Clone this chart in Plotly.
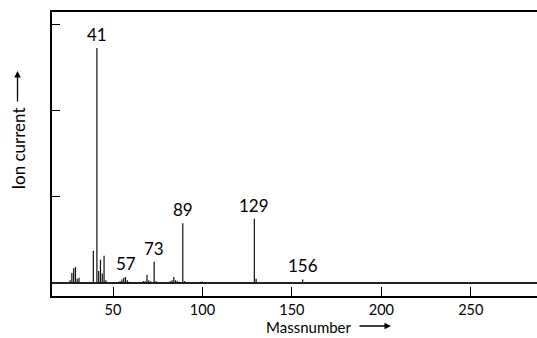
import plotly.graph_objects as go

# ---- data ----
masses = [26, 27, 28, 29, 30, 31, 34, 36, 37, 39, 41, 42, 43, 44, 45, 46,
          53, 54, 55, 56, 57, 58, 59, 61, 67, 68, 69, 70, 71, 73, 74,
          82, 83, 84, 85, 86, 87, 89, 90, 99, 100, 101, 129, 130, 156]
intensity = [3, 11.5, 17, 18.5, 5, 6, 1, 1, 1, 37.5, 273, 14, 27, 11, 31.5, 3,
             1.5, 2, 4, 6, 7, 3, 1.5, 1, 2, 2, 9.5, 3, 2, 24.5, 2,
             2, 3, 7, 3, 2, 1.5, 69.5, 2, 1.5, 1.5, 1, 74.5, 5, 4]
label_masses = [41, 57, 73, 89, 129, 156]
x_ticks = [50, 100, 150, 200, 250]
y_ticks = [100, 200, 300]

FONT = "Lato"

# stick spectrum built from the arrays
xs, ys = [], []
for m, h in zip(masses, intensity):
    xs += [m, m, None]
    ys += [0, h, None]

fig = go.Figure()
fig.add_trace(go.Scatter(x=xs, y=ys, mode="lines",
                         line=dict(color="#111111", width=1.2),
                         hoverinfo="skip", showlegend=False))

lookup = dict(zip(masses, intensity))
for m in label_masses:
    fig.add_annotation(x=m, y=lookup[m], text=str(m), showarrow=False,
                       xanchor="center", yanchor="bottom", yshift=1,
                       font=dict(family=FONT, size=17, color="black"))

# axis titles with arrows
W, H = 537, 338
L, R, T, B = 52, 0, 12, 42
pw, ph = W - L - R, H - T - B

def px(x):
    return (x - L) / pw

def py(y):
    return (H - B - y) / ph

fig.add_annotation(xref="paper", yref="paper", x=px(309), y=py(326.5),
                   text="Massnumber", showarrow=False,
                   xanchor="center", yanchor="middle", borderpad=0,
                   font=dict(family=FONT, size=15, color="black"))
fig.add_annotation(xref="paper", yref="paper", x=px(391), y=py(326),
                   ax=-33, ay=0, text="", showarrow=True,
                   arrowhead=2, arrowsize=1, arrowwidth=1.3, arrowcolor="black")
fig.add_annotation(xref="paper", yref="paper", x=px(17.5), y=py(149),
                   text="Ion current", showarrow=False, textangle=-90,
                   xanchor="center", yanchor="middle",
                   font=dict(family=FONT, size=17, color="black"))
fig.add_annotation(xref="paper", yref="paper", x=px(17.5), y=py(71),
                   ax=0, ay=32, text="", showarrow=True,
                   arrowhead=2, arrowsize=1, arrowwidth=1.3, arrowcolor="black")

fig.update_layout(
    width=W, height=H,
    margin=dict(l=L, r=R, t=T, b=B),
    paper_bgcolor="white", plot_bgcolor="white",
    xaxis=dict(range=[15.9, 287], tickvals=x_ticks, ticks="inside",
               ticklen=9, tickwidth=1.3, tickcolor="black",
               showgrid=False, zeroline=False,
               showline=True, linecolor="black", linewidth=2, mirror=True,
               tickfont=dict(family=FONT, size=14.5, color="black")),
    yaxis=dict(range=[-15.2, 315], tickvals=y_ticks, ticks="inside",
               ticklen=8, tickwidth=1.3, tickcolor="black",
               showticklabels=False, showgrid=False,
               zeroline=True, zerolinecolor="#222222", zerolinewidth=1.5,
               showline=True, linecolor="black", linewidth=2),
    showlegend=False,
)

fig.write_html(
    "out.html",
    config={"displayModeBar": False},
    post_script="document.body.style.margin='0';document.body.style.padding='0';"
                "document.body.style.overflow='hidden';",
)
